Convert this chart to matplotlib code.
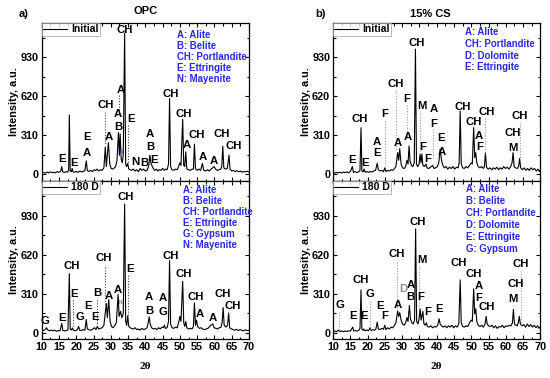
import matplotlib
matplotlib.use("Agg")
import matplotlib.pyplot as plt
from matplotlib.ticker import MultipleLocator, NullFormatter

plt.rcParams['font.family'] = ['Liberation Sans', 'DejaVu Sans']

# ---------------- data ----------------
tt_opc_init = [10.0,10.5,11.0,11.5,12.0,12.5,13.0,13.5,14.0,14.5,15.0,15.5,15.8,16.1,16.6,17.0,17.5,17.8,18.0,18.25,18.6,18.8,19.1,19.6,20.0,20.5,21.0,21.5,22.0,22.5,22.9,23.2,23.7,24.2,24.7,25.2,25.6,26.0,26.5,27.0,27.5,28.0,28.4,28.7,29.3,29.7,30.1,30.6,31.0,31.4,31.8,32.2,32.5,32.7,33.0,33.3,33.6,34.0,34.3,34.6,34.9,35.2,35.6,36.0,36.5,37.0,37.5,38.0,38.5,39.0,39.5,40.0,40.5,41.0,41.3,41.6,42.0,42.3,42.7,43.2,43.6,44.0,44.5,45.0,45.5,45.9,46.3,46.7,47.0,47.3,47.7,48.2,48.7,49.2,49.6,50.0,50.3,50.8,51.1,51.4,51.7,52.0,52.5,53.0,53.5,53.9,54.2,54.5,55.0,55.5,56.0,56.5,56.9,57.4,58.0,58.5,59.0,59.5,59.9,60.3,60.8,61.3,61.8,62.1,62.4,62.7,63.2,63.7,64.2,64.5,65.0,65.5,66.0,66.5,67.0,67.5,68.0,68.5,69.0,69.5,70.0]
int_opc_init = [10,14,8,16,10,18,12,15,10,20,14,22,60,18,14,20,16,30,470,25,20,45,18,15,22,14,24,18,20,28,105,28,22,30,20,35,28,40,25,35,30,50,215,60,250,80,45,40,50,60,110,330,150,320,120,90,150,1120,80,60,85,40,35,30,40,25,35,20,45,30,40,25,30,70,150,90,60,45,30,40,25,35,30,45,30,40,35,80,600,60,35,30,40,35,60,90,70,435,70,60,177,40,35,30,40,40,238,45,30,40,30,85,30,25,35,25,40,50,60,40,30,35,40,60,222,50,40,45,150,40,25,30,20,28,18,25,15,22,18,24,15]

tt_opc_180 = [10.0,10.5,11.0,11.4,11.8,12.3,12.8,13.3,13.8,14.3,14.8,15.3,15.8,16.1,16.6,17.1,17.6,18.0,18.25,18.6,18.9,19.2,19.7,20.2,20.7,21.0,21.5,22.0,22.5,22.9,23.2,23.7,24.2,24.7,25.3,25.7,26.1,26.5,27.0,27.5,28.0,28.7,29.0,29.4,29.8,30.2,30.7,31.2,31.6,32.1,32.4,32.8,33.2,33.6,34.0,34.3,34.6,34.9,35.2,35.6,36.0,36.5,37.0,37.5,38.0,38.5,39.0,39.5,40.0,40.5,40.8,41.1,41.4,41.8,42.3,42.8,43.3,43.8,44.3,44.8,45.2,45.5,45.8,46.3,46.7,47.0,47.3,47.7,48.2,48.7,49.2,49.6,50.0,50.3,50.8,51.1,51.4,51.7,52.0,52.5,53.0,53.5,53.9,54.2,54.5,54.8,55.1,55.6,56.1,56.6,57.1,57.6,58.1,58.6,59.0,59.5,59.9,60.4,60.9,61.4,61.9,62.2,62.5,62.8,63.3,63.8,64.1,64.4,64.9,65.4,65.9,66.4,66.9,67.4,67.9,68.4,68.9,69.4,70.0]
int_opc_180 = [22,18,25,40,20,16,22,15,20,12,18,15,74,20,14,18,22,470,30,22,38,20,16,22,50,20,18,25,20,106,30,24,20,28,40,25,50,30,35,40,60,232,120,264,90,50,40,60,80,304,130,170,120,150,1023,90,60,135,50,40,35,30,40,25,30,22,35,25,30,40,80,126,70,40,30,35,25,40,30,45,40,60,35,40,90,573,70,40,35,45,40,80,130,90,409,80,50,90,40,30,35,30,50,237,60,100,50,35,40,30,25,30,35,50,60,70,40,35,30,40,45,80,200,60,45,60,158,40,30,25,20,28,18,25,20,15,24,18,20]

tt_cs_init = [10.0,10.5,11.0,11.5,12.0,12.5,13.0,13.5,14.0,14.5,15.0,15.6,15.9,16.4,16.9,17.4,17.8,18.1,18.35,18.7,19.0,19.3,19.8,20.3,20.8,21.3,21.8,22.3,22.8,23.1,23.6,24.1,24.6,25.0,25.3,25.8,26.3,26.8,27.3,27.8,28.2,28.7,29.0,29.3,29.7,30.1,30.6,31.0,31.4,31.7,32.0,32.3,32.7,33.1,33.5,33.85,34.15,34.5,34.9,35.2,35.45,35.7,36.0,36.4,36.9,37.2,37.7,38.2,38.8,39.2,39.7,40.2,40.6,41.0,41.4,41.8,42.2,42.7,43.2,43.7,44.2,44.7,45.2,45.7,46.2,46.5,46.8,47.1,47.5,48.0,48.5,49.0,49.5,50.0,50.3,50.7,51.0,51.3,51.6,52.0,52.5,53.0,53.5,53.8,54.1,54.4,54.9,55.4,55.9,56.4,56.9,57.4,57.9,58.4,58.9,59.4,59.9,60.4,60.9,61.4,61.8,62.1,62.4,62.8,63.3,63.7,64.0,64.3,64.8,65.3,65.8,66.3,66.8,67.3,67.8,68.3,68.8,69.3,69.7,70.0]
int_cs_init = [12,8,14,10,15,9,16,12,18,10,20,60,14,20,12,18,30,369,25,18,40,15,20,14,22,16,25,30,87,35,25,30,20,50,20,30,25,35,30,45,60,171,110,203,80,50,45,60,110,80,224,100,70,60,90,993,80,60,80,158,90,160,70,60,80,50,45,55,70,45,50,60,90,198,110,70,50,60,40,55,45,60,40,55,50,90,500,80,50,45,60,50,70,90,80,369,130,170,90,60,50,60,45,60,171,55,40,50,35,50,40,55,35,50,40,60,45,55,40,60,90,171,60,50,45,60,124,50,35,50,30,45,30,50,35,45,25,40,20,35]

tt_cs_180 = [10.0,10.5,11.0,11.5,12.0,12.5,13.0,13.5,14.0,14.5,15.0,15.7,16.0,16.5,17.0,17.5,17.8,18.1,18.35,18.7,18.9,19.3,19.8,20.3,20.7,21.0,21.5,22.0,22.4,22.8,23.1,23.6,24.1,24.6,25.0,25.3,25.8,26.3,26.8,27.3,27.8,28.2,28.7,29.0,29.3,29.7,30.1,30.6,31.0,31.4,31.7,32.1,32.4,32.8,33.2,33.6,33.9,34.2,34.6,34.9,35.2,35.5,36.0,36.3,36.7,37.0,37.3,37.8,38.3,38.8,39.3,39.8,40.3,40.7,41.0,41.4,41.9,42.4,42.9,43.4,43.9,44.4,44.9,45.4,45.9,46.4,46.8,47.1,47.5,48.0,48.5,49.0,49.5,50.0,50.3,50.7,51.0,51.3,51.6,52.0,52.5,53.0,53.5,54.0,54.3,54.6,55.0,55.5,56.0,56.5,57.0,57.5,58.0,58.5,59.0,59.5,60.0,60.5,61.0,61.5,61.9,62.2,62.5,62.9,63.3,63.6,63.9,64.2,64.7,65.2,65.7,66.2,66.7,67.2,67.7,68.2,68.7,69.2,69.6,70.0]
int_cs_180 = [10,14,8,20,10,15,8,14,10,16,12,45,14,18,12,20,35,341,28,20,30,15,22,16,40,18,25,20,30,85,30,25,35,28,60,25,40,30,45,40,60,80,172,130,160,100,70,60,80,120,90,217,110,80,70,100,825,90,70,110,190,100,170,70,60,80,50,45,55,40,50,45,60,111,70,55,45,55,40,55,45,60,40,55,45,70,420,80,50,45,55,50,80,100,90,349,150,190,90,60,50,60,45,70,130,70,55,50,60,40,55,35,50,45,60,40,55,50,60,55,80,185,70,60,55,80,130,70,55,65,45,70,50,65,45,60,40,55,35,50]

# peak labels: (text, 2theta, intensity)
lab_opc_init = [("E",15.9,119),("E",19.3,85),("E",23.2,296),("A",23.2,169),("CH",28.4,547),
                ("A",29.5,296),("A",32.8,666),("A",32.0,476),("B",32.1,373),("CH",33.9,1142),
                ("E",35.8,434),("N",37.0,98),("B",39.7,90),("E",42.4,113),("A",41.4,322),
                ("B",41.4,217),("CH",47.2,640),("CH",51.1,476),("A",52.1,230),("CH",54.9,309),
                ("A",56.5,135),("A",59.8,105),("CH",62.1,317),("CH",65.5,222)]
lab_opc_180 = [("G",11.0,93),("E",15.9,119),("CH",18.6,534),("E",19.4,304),("G",21.1,127),
               ("E",23.5,211),("E",25.3,127),("B",26.0,312),("CH",28.0,595),("A",29.4,290),
               ("A",32.1,343),("CH",34.4,1078),("E",35.5,510),("A",40.9,285),("B",41.0,169),
               ("A",45.0,274),("G",45.0,163),("CH",47.4,613),("CH",51.1,470),("CH",54.6,285),
               ("A",55.8,153),("A",59.6,119),("CH",62.5,304),("CH",65.4,211)]
lab_cs_init = [("E",15.4,116),("CH",17.8,434),("E",19.4,90),("A",22.8,259),("E",22.8,166),
               ("F",25.0,474),("CH",28.1,719),("A",28.9,245),("A",31.7,295),("F",31.4,598),
               ("CH",34.1,1045),("M",35.8,540),("F",36.0,216),("F",37.3,124),("A",39.1,514),
               ("F",39.0,401),("E",41.4,290),("A",41.4,174),("CH",47.4,535),("CH",50.8,414),
               ("A",52.3,303),("F",52.3,216),("CH",54.6,493),("CH",63.9,461),("CH",62.1,324),
               ("M",62.0,206)]
lab_cs_180 = [("G",12.1,222),("E",15.7,132),("E",19.0,132),("CH",17.9,423),("G",20.6,309),
              ("E",23.6,211),("F",25.0,137),("CH",28.5,624),("A",28.9,222),("A",32.4,381),
              ("B",32.4,281),("CH",34.4,878),("M",35.6,576),("F",35.5,283),("F",37.3,164),
              ("E",40.8,185),("CH",46.5,555),("CH",50.7,468),("A",52.2,375),("F",52.2,275),
              ("CH",54.6,203),("CH",64.2,547),("CH",62.9,385),("M",62.0,270)]
grey_lab_cs_180 = [("D",30.3,349)]

# dotted guide lines: (2theta, from, to)
dot_opc_init = [(28.4,494,243),(32.4,630,500),(34.9,389,85)]
dot_opc_180 = [(19.0,259,53),(26.1,259,53),(28.2,523,224),(35.0,462,132)]
dot_cs_init = [(25.0,421,66),(28.3,666,190),(31.4,553,290),(35.2,501,158),(39.0,356,119),(54.1,448,171),(64.0,408,119)]
dot_cs_180 = [(11.6,164,6),(20.7,256,6),(28.5,561,164),(35.0,529,190),(64.4,494,58)]

key_opc_init = ["A: Alite","B: Belite","CH: Portlandite","E: Ettringite","N: Mayenite"]
key_opc_180 = ["A: Alite","B: Belite","CH: Portlandite","E: Ettringite","G: Gypsum","N: Mayenite"]
key_cs_init = ["A: Alite","CH: Portlandite","D: Dolomite","E: Ettringite"]
key_cs_180 = ["A: Alite","B: Belite","CH: Portlandite","D: Dolomite","E: Ettringite","G: Gypsum"]

yticks = [0, 310, 620, 930]
xticks = [10,15,20,25,30,35,40,45,50,55,60,65,70]

BLUE = '#2727e6'
LABFS = 8.2

fig = plt.figure(figsize=(5.5, 3.78), dpi=100)

def make_ax(rect, tt, ii, name, labels, dots, dotcol, key, key_x, key_y0, key_dy,
            bottom, nmark=None, ylim=(-55, 1200)):
    ax = fig.add_axes(rect)
    ax.plot(tt, ii, color='black', lw=0.8, label=name)
    ax.set_xlim(10, 70)
    ax.set_ylim(*ylim)
    ax.set_yticks(yticks)
    ax.set_xticks(xticks)
    ax.xaxis.set_minor_locator(MultipleLocator(2.5))
    ax.yaxis.set_minor_locator(MultipleLocator(155))
    ax.tick_params(which='both', direction='in', top=True, right=True, width=0.8)
    ax.tick_params(which='major', length=3, labelsize=7.8, pad=2)
    ax.tick_params(which='minor', length=1.8)
    for lab in ax.get_yticklabels() + ax.get_xticklabels():
        lab.set_fontweight('bold')
    for s in ax.spines.values():
        s.set_linewidth(0.9)
    if not bottom:
        ax.xaxis.set_major_formatter(NullFormatter())
    else:
        ax.set_xlabel('2θ', family='Liberation Serif', fontsize=8, fontweight='bold', labelpad=7)
    ax.set_ylabel('Intensity, a.u.', fontsize=7.8, fontweight='bold', labelpad=1)
    for x, y0, y1 in dots:
        ax.plot([x, x], [y0, y1], ls=(0, (1, 1.5)), color=dotcol, lw=0.8)
    for t, x, y in labels:
        ax.text(x, y, t, ha='center', va='center', fontsize=LABFS, fontweight='bold')
    for i, t in enumerate(key):
        ax.text(key_x, key_y0 - i * key_dy, t, ha='left', va='center', fontsize=6.9,
                fontweight='bold', color=BLUE)
    if nmark is not None:
        ax.text(nmark[0], nmark[1], 'N', ha='center', va='center', fontsize=3.5, color=BLUE)
    leg = ax.legend(loc='upper left', borderaxespad=0, frameon=True, fancybox=False,
                    edgecolor='0.6', handlelength=2.3, borderpad=0.12, handletextpad=0.4,
                    prop={'weight': 'bold', 'size': 7.5})
    leg.get_frame().set_linewidth(0.6)
    return ax

L, W = 0.0758, 0.377
R = 0.6055
H = 0.418
TOP_B = 0.521
BOT_B = 0.103

ax1 = make_ax([L, TOP_B, W, H], tt_opc_init, int_opc_init, 'Initial', lab_opc_init, dot_opc_init,
              '0.25', key_opc_init, 49.1, 1108, 88, False, nmark=(33.0, 182))
ax2 = make_ax([L, BOT_B, W, H], tt_opc_180, int_opc_180, '180 D', lab_opc_180, dot_opc_180,
              '0.25', key_opc_180, 50.8, 1136, 87, True, nmark=(32.9, 238), ylim=(-50, 1205))
ax3 = make_ax([R, TOP_B, W, H], tt_cs_init, int_cs_init, 'Initial', lab_cs_init, dot_cs_init,
              '0.6', key_cs_init, 48.3, 1127, 93, False)
ax4 = make_ax([R, BOT_B, W, H], tt_cs_180, int_cs_180, '180 D', lab_cs_180, dot_cs_180,
              '0.6', key_cs_180, 48.6, 1142, 95, True, ylim=(-50, 1205))
for t, x, y in grey_lab_cs_180:
    ax4.text(x, y, t, ha='center', va='center', fontsize=LABFS, fontweight='bold', color='0.55')

fig.text(0.042, 0.963, 'a)', ha='center', va='center', fontsize=8, fontweight='bold')
fig.text(0.264, 0.970, 'OPC', ha='center', va='center', fontsize=8, fontweight='bold')
fig.text(0.582, 0.963, 'b)', ha='center', va='center', fontsize=8, fontweight='bold')
fig.text(0.782, 0.963, '15% CS', ha='center', va='center', fontsize=8, fontweight='bold')

fig.savefig('out.png', dpi=100)
